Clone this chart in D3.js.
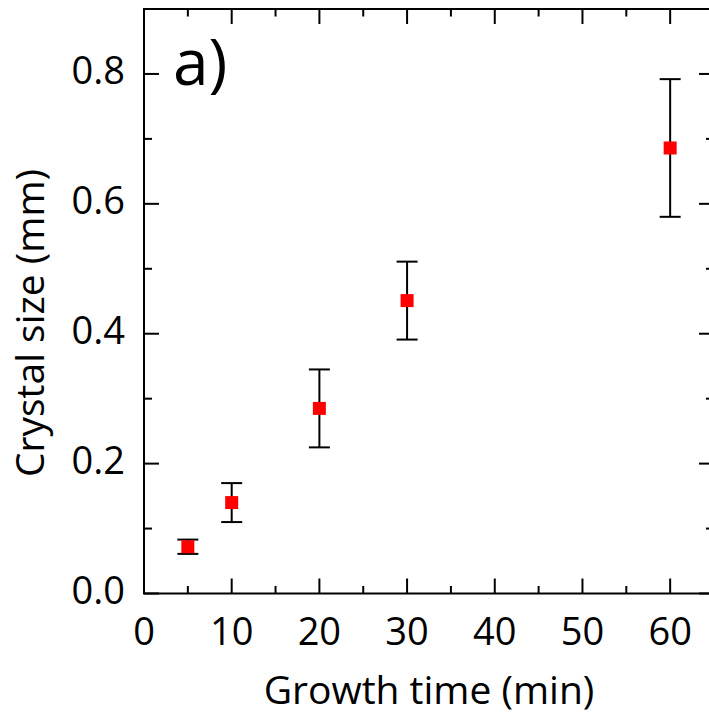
<!DOCTYPE html>
<html><head><meta charset="utf-8">
<script src="https://cdn.jsdelivr.net/npm/d3@7"></script>
<style>body{margin:0;background:#fff}svg{display:block}text{font-family:"Open Sans",sans-serif;fill:#000}</style>
</head><body>
<script>
const times = [5, 10, 20, 30, 60];
const sizes = [0.072, 0.140, 0.285, 0.451, 0.686];
const errors = [0.011, 0.030, 0.060, 0.060, 0.106];
const xTicks = [0, 10, 20, 30, 40, 50, 60];
const xMinor = [5, 15, 25, 35, 45, 55, 65];
const yTicks = [0.0, 0.2, 0.4, 0.6, 0.8];
const yMinor = [0.1, 0.3, 0.5, 0.7, 0.9];
const xTitle = "Growth time (min)";
const yTitle = "Crystal size (mm)";
const panel = "a)";

const W = 709, H = 717;
const L = 144, R = 714, T = 9, B = 593.5;
const svg = d3.select("body").append("svg").attr("width", W).attr("height", H);
const x = d3.scaleLinear().domain([0, 65]).range([L, R]);
const y = d3.scaleLinear().domain([0, 0.9]).range([B, T]);

// error bars
const g = svg.append("g");
times.forEach((t, i) => {
  const cx = x(t), y1 = y(sizes[i] + errors[i]), y0 = y(sizes[i] - errors[i]);
  g.append("line").attr("x1", cx).attr("x2", cx).attr("y1", y1).attr("y2", y0).attr("stroke", "#000").attr("stroke-width", 2);
  [y1, y0].forEach(yy => g.append("line").attr("x1", cx - 10.5).attr("x2", cx + 10.5).attr("y1", yy).attr("y2", yy).attr("stroke", "#000").attr("stroke-width", 2));
});
g.selectAll("rect.pt").data(times).join("rect").attr("class", "pt")
  .attr("x", d => x(d) - 6.5).attr("y", (d, i) => y(sizes[i]) - 6.5)
  .attr("width", 13).attr("height", 13).attr("fill", "#ff0000");

// frame
const fr = svg.append("g").attr("stroke", "#000").attr("stroke-width", 2).attr("fill", "none");
fr.append("rect").attr("x", L).attr("y", T).attr("width", R - L).attr("height", B - T);
const tk = (x1, y1, x2, y2) => fr.append("line").attr("x1", x1).attr("y1", y1).attr("x2", x2).attr("y2", y2);
xTicks.forEach(v => { tk(x(v), B, x(v), B - 15); tk(x(v), T, x(v), T + 15); });
xMinor.forEach(v => { tk(x(v), B, x(v), B - 7.5); tk(x(v), T, x(v), T + 7.5); });
yTicks.forEach(v => { tk(L, y(v), L + 15, y(v)); tk(R, y(v), R - 15, y(v)); });
yMinor.forEach(v => { tk(L, y(v), L + 8, y(v)); tk(R, y(v), R - 8, y(v)); });

// labels
svg.append("g").selectAll("text").data(xTicks).join("text")
  .attr("x", d => x(d)).attr("y", 645).attr("text-anchor", "middle")
  .attr("font-size", 38).text(d => d3.format("d")(d));
svg.append("g").selectAll("text").data(yTicks).join("text")
  .attr("x", 125).attr("y", d => y(d) + 10).attr("text-anchor", "end")
  .attr("font-size", 38).text(d => d3.format(".1f")(d));

svg.append("text").attr("x", 429).attr("y", 704).attr("text-anchor", "middle")
  .attr("font-size", 39).text(xTitle);
svg.append("text").attr("transform", "translate(44,323) rotate(-90)").attr("text-anchor", "middle")
  .attr("font-size", 39).text(yTitle);
svg.append("text").attr("x", 173).attr("y", 85).attr("font-size", 64).text(panel);
</script>
</body></html>
